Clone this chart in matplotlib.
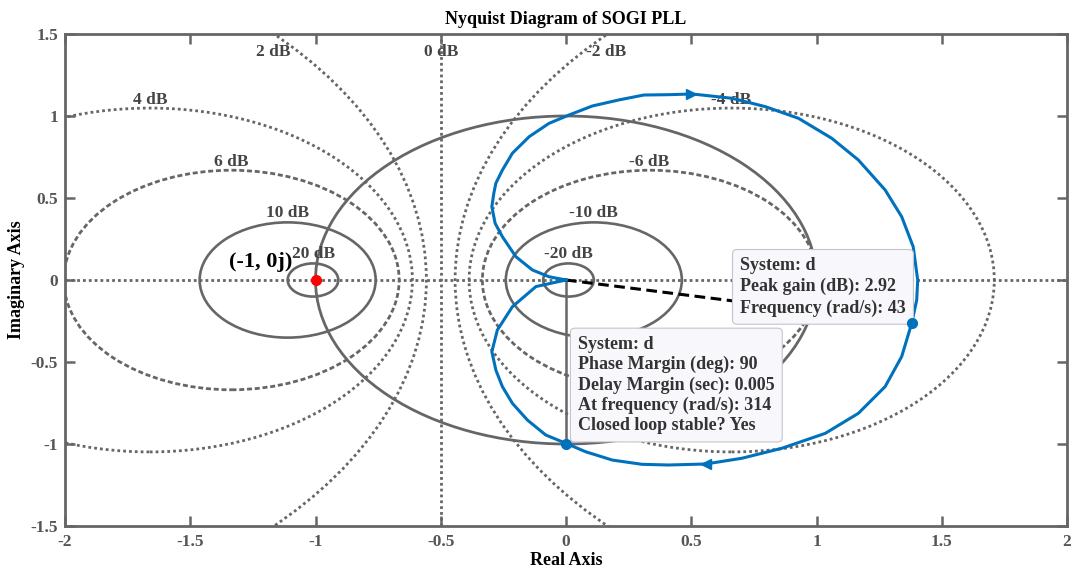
import numpy as np
import matplotlib.pyplot as plt
from matplotlib.patches import Circle

plt.rcParams['font.family'] = ['Liberation Serif', 'DejaVu Serif']
plt.rcParams['font.weight'] = 'bold'
plt.rcParams['axes.unicode_minus'] = False

# open-loop response of the SOGI PLL, traced clockwise from the origin
nyq_re = [0.0, -0.068, -0.134, -0.2, -0.254, -0.283, -0.296, -0.288, -0.28, -0.254,
          -0.214, -0.147, -0.068, 0.012, 0.105, 0.211, 0.311, 0.41, 0.5, 0.53,
          0.663, 0.796, 0.928, 1.061, 1.167, 1.274, 1.34, 1.386, 1.404, 1.4,
          1.38, 1.34, 1.274, 1.167, 1.035, 0.862, 0.702, 0.557, 0.41, 0.304,
          0.185, 0.078, 0.0, -0.081, -0.154, -0.214, -0.254, -0.28, -0.296, -0.274,
          -0.214, -0.12, 0.0]
nyq_im = [0.0, 0.02, 0.061, 0.142, 0.264, 0.346, 0.447, 0.53, 0.59, 0.67,
          0.773, 0.874, 0.955, 1.006, 1.061, 1.098, 1.128, 1.13, 1.134, 1.13,
          1.108, 1.057, 0.986, 0.864, 0.732, 0.549, 0.386, 0.203, 0.0, -0.122,
          -0.264, -0.467, -0.65, -0.813, -0.935, -1.026, -1.087, -1.122, -1.128, -1.124,
          -1.098, -1.047, -0.996, -0.945, -0.854, -0.752, -0.65, -0.549, -0.437, -0.305,
          -0.163, -0.04, 0.0]

# direction arrows along the curve
arrow_re = [0.50, 0.557]
arrow_im = [1.134, -1.122]
arrow_mk = ['>', '<']

# data tips
peak_re, peak_im = 1.38, -0.264
peak_db, peak_w = 2.92, 43
pm_re, pm_im = 0.0, -1.0
pm_deg, dm_sec, pm_w = 90, 0.005, 314

# constant closed-loop magnitude contours (dB)
grid_db = [20, 10, 6, 4, 2, -2, -4, -6, -10, -20]

label_pos = {
    '20 dB': (-1.008, 0.16), '10 dB': (-1.11, 0.41), '6 dB': (-1.335, 0.72),
    '4 dB': (-1.66, 1.10), '2 dB': (-1.17, 1.39), '0 dB': (-0.5, 1.39),
    '-2 dB': (0.16, 1.39), '-4 dB': (0.66, 1.10), '-6 dB': (0.33, 0.72),
    '-10 dB': (0.108, 0.41), '-20 dB': (0.008, 0.16),
}

gray = '#666666'
blue = '#0072BD'
dotted = (0, (1.0, 1.1))
dashed = (0, (1.8, 1.0))

fig = plt.figure(figsize=(10.74, 5.72), dpi=100)
ax = fig.add_axes([65 / 1074, 46 / 572, 1002 / 1074, 492 / 572])

for db in grid_db:
    m = 10 ** (db / 20)
    cx = -m ** 2 / (m ** 2 - 1)
    r = abs(m / (m ** 2 - 1))
    if abs(db) >= 10:
        ls, lw = '-', 1.9
    elif abs(db) == 6:
        ls, lw = dashed, 2.0
    else:
        ls, lw = dotted, 2.0
    ax.add_patch(Circle((cx, 0), r, fill=False, ec=gray, lw=lw, ls=ls, zorder=1))
ax.axvline(-0.5, color=gray, lw=2.0, ls=dotted, zorder=1)
ax.axhline(0, color=gray, lw=2.0, ls=dotted, zorder=1)

# unit circle
ax.add_patch(Circle((0, 0), 1, fill=False, ec=gray, lw=2.0, zorder=1.5))

for lbl, (x, y) in label_pos.items():
    ax.text(x, y, lbl, ha='center', va='center', fontsize=12.5, color='#444444',
            zorder=2)

# margin / peak markers
ax.plot([0, pm_re], [0, pm_im], color=gray, lw=1.8, zorder=2)
ax.plot([0, peak_re], [0, peak_im], color='black', lw=2.2, ls=(0, (3.5, 1.8)), zorder=2)

ax.plot(nyq_re, nyq_im, color=blue, lw=2.2, zorder=3)
for x, y, mk in zip(arrow_re, arrow_im, arrow_mk):
    ax.plot(x, y, marker=mk, color=blue, ms=7.5, zorder=3)
ax.plot([peak_re, pm_re], [peak_im, pm_im], 'o', color=blue, ms=7, zorder=6)

ax.plot(-1, 0, 'o', color='red', ms=7, zorder=4)
ax.text(-1.22, 0.11, '(-1, 0j)', ha='center', va='center', fontsize=16,
        color='black', zorder=4)

tip_box = dict(boxstyle='round,pad=0.42,rounding_size=0.25', fc='#f8f8fc',
               ec='#c4c4cc', lw=0.8)
ax.text(0.695, 0.14,
        f'System: d\nPeak gain (dB): {peak_db}\nFrequency (rad/s): {peak_w}',
        ha='left', va='top', fontsize=13, color='#333333', linespacing=1.3,
        bbox=tip_box, zorder=5)
ax.text(0.048, -0.34,
        f'System: d\nPhase Margin (deg): {pm_deg}\nDelay Margin (sec): {dm_sec}\n'
        f'At frequency (rad/s): {pm_w}\nClosed loop stable? Yes',
        ha='left', va='top', fontsize=13, color='#333333', linespacing=1.24,
        bbox=tip_box, zorder=5)

ax.set_xlim(-2, 2)
ax.set_ylim(-1.5, 1.5)
ax.set_xticks(np.arange(-2, 2.01, 0.5))
ax.set_yticks(np.arange(-1.5, 1.51, 0.5))
ax.set_xticklabels(['-2', '-1.5', '-1', '-0.5', '0', '0.5', '1', '1.5', '2'])
ax.set_yticklabels(['-1.5', '-1', '-0.5', '0', '0.5', '1', '1.5'])
ax.tick_params(direction='in', length=7, width=1.8, color=gray, labelcolor='#555555',
               labelsize=12.5, top=True, right=True)
ax.tick_params(axis='x', pad=6)
ax.tick_params(axis='y', pad=5)
for s in ax.spines.values():
    s.set_color(gray)
    s.set_linewidth(2.0)

ax.set_title('Nyquist Diagram of SOGI PLL', fontsize=13, fontweight='bold', pad=7)
ax.set_xlabel('Real Axis', fontsize=13, fontweight='bold', labelpad=1)
ax.set_ylabel('Imaginary Axis', fontsize=13, fontweight='bold', labelpad=4)

fig.savefig('out.png', dpi=100)
